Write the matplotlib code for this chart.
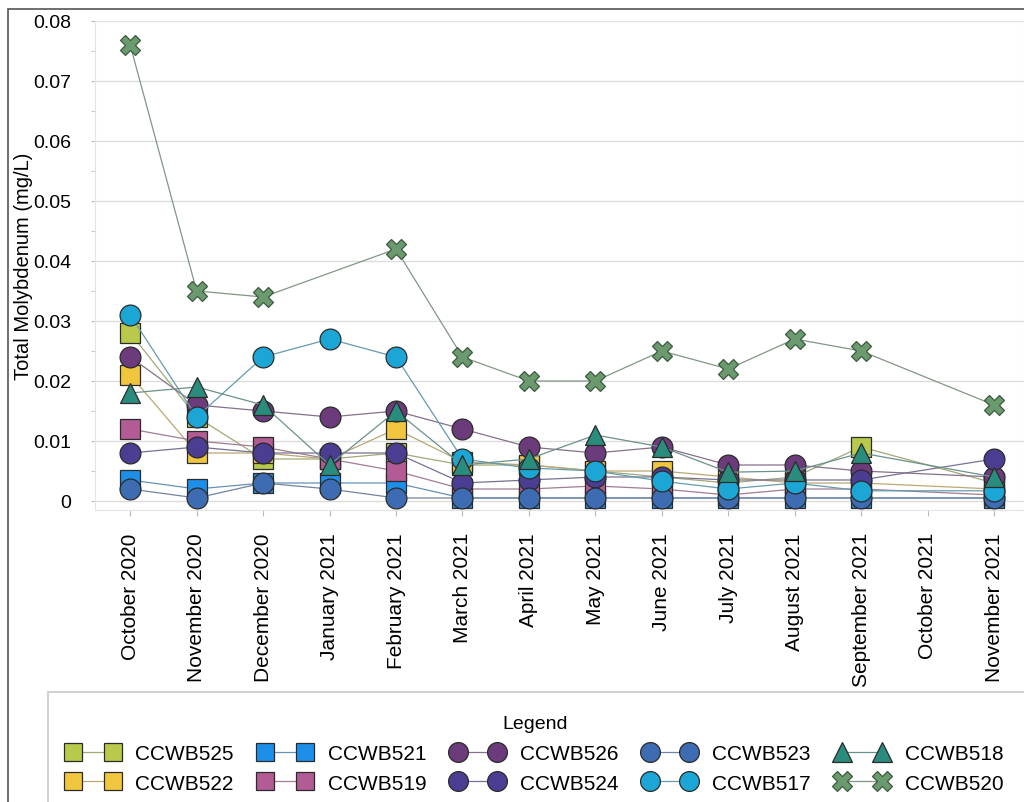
import matplotlib
matplotlib.use("Agg")
import matplotlib.pyplot as plt
import numpy as np
from matplotlib.colors import to_rgb
from matplotlib.patches import Rectangle

plt.rcParams["font.family"] = ["Liberation Sans", "DejaVu Sans"]

nan = np.nan
months = ["October 2020", "November 2020", "December 2020", "January 2021",
          "February 2021", "March 2021", "April 2021", "May 2021", "June 2021",
          "July 2021", "August 2021", "September 2021", "October 2021",
          "November 2021"]

ccwb525 = [0.028, 0.014, 0.007, 0.007, 0.008, 0.006, 0.006, 0.005, 0.004, 0.003, 0.004, 0.009, nan, 0.003]
ccwb522 = [0.021, 0.008, 0.008, 0.007, 0.012, 0.0065, 0.006, 0.005, 0.005, 0.004, 0.003, 0.003, nan, 0.002]
ccwb521 = [0.0035, 0.002, 0.003, 0.003, 0.003, 0.0005, 0.0005, 0.0005, 0.0005, 0.0005, 0.0005, 0.0005, nan, 0.0005]
ccwb519 = [0.012, 0.010, 0.009, 0.007, 0.005, 0.002, 0.002, 0.0025, 0.002, 0.001, 0.002, 0.002, nan, 0.001]
ccwb526 = [0.024, 0.016, 0.015, 0.014, 0.015, 0.012, 0.009, 0.008, 0.009, 0.006, 0.006, 0.005, nan, 0.004]
ccwb524 = [0.008, 0.009, 0.008, 0.008, 0.008, 0.003, 0.0035, 0.004, 0.004, 0.0035, 0.0035, 0.0035, nan, 0.007]
ccwb523 = [0.002, 0.0005, 0.003, 0.002, 0.0005, 0.0005, 0.0005, 0.0005, 0.0005, 0.0005, 0.0005, 0.0005, nan, 0.0005]
ccwb517 = [0.031, 0.014, 0.024, 0.027, 0.024, 0.007, 0.0055, 0.005, 0.0033, 0.002, 0.003, 0.0017, nan, 0.0017]
ccwb518 = [0.018, 0.019, 0.016, 0.006, 0.015, 0.006, 0.007, 0.011, 0.009, 0.0048, 0.005, 0.008, nan, 0.004]
ccwb520 = [0.076, 0.035, 0.034, nan, 0.042, 0.024, 0.020, 0.020, 0.025, 0.022, 0.027, 0.025, nan, 0.016]

# name, values, marker, colour
series = [
    ("CCWB525", ccwb525, "s", "#b8c94c"),
    ("CCWB522", ccwb522, "s", "#f0c63f"),
    ("CCWB521", ccwb521, "s", "#1e8fe8"),
    ("CCWB519", ccwb519, "s", "#b35b94"),
    ("CCWB526", ccwb526, "o", "#6c3b7c"),
    ("CCWB524", ccwb524, "o", "#4b3e92"),
    ("CCWB523", ccwb523, "o", "#3d6cb3"),
    ("CCWB517", ccwb517, "o", "#1ba6d6"),
    ("CCWB518", ccwb518, "^", "#2a8c7c"),
    ("CCWB520", ccwb520, "X", "#6a9a6e"),
]


def line_colour(c):
    # thin connector lines are greyed-out versions of the marker colour
    r, g, b = to_rgb(c)
    return (0.4 * r + 0.6 * 0.58, 0.4 * g + 0.6 * 0.58, 0.4 * b + 0.6 * 0.58)


fig = plt.figure(figsize=(10.24, 8.03), dpi=100)
ax = fig.add_axes([95 / 1024, 1 - 511 / 803, 1 - 95 / 1024, (511 - 22) / 803])

x = np.arange(len(months))
handles = {}
for name, vals, marker, col in series:
    y = np.array(vals, dtype=float)
    m = ~np.isnan(y)
    size = 14 if marker == "s" else 15
    h, = ax.plot(x[m], y[m], color=line_colour(col), lw=0.9, marker=marker,
                 markersize=size, markerfacecolor=col,
                 markeredgecolor="#2b2b2b" if marker != "X" else "#3d5a40",
                 markeredgewidth=0.9, label=name)
    handles[name] = h

ax.set_xlim(-0.53, 13.45)
ax.set_ylim(-0.0015, 0.08)
ax.set_yticks(np.arange(0, 0.081, 0.01))
ax.set_yticklabels(["0"] + [f"{v:.2f}" for v in np.arange(0.01, 0.081, 0.01)])
ax.set_yticks(np.arange(0.005, 0.08, 0.01), minor=True)
ax.set_xticks(x)
ax.set_xticklabels(months, rotation=90, fontsize=15)
ax.tick_params(axis="y", labelsize=14, length=3, pad=14, color="#bbbbbb", which="both")
ax.tick_params(axis="x", length=4, pad=12, color="#bbbbbb")
ax.grid(axis="y", color="#dcdcdc", lw=1)
ax.set_axisbelow(True)
for s in ax.spines.values():
    s.set_color("#e4e4e4")
ax.set_ylabel("Total Molybdenum (mg/L)", fontsize=14.5)
ax.yaxis.set_label_coords(-62 / 929, 0.5)

# outer border and legend box
fig.patches.append(Rectangle((8 / 1024, -0.1), 1.2, 1 - 10 / 803 + 0.1,
                             transform=fig.transFigure, fill=False,
                             edgecolor="#555555", lw=1.2))
fig.patches.append(Rectangle((48 / 1024, -0.1), 1.2, 1 - 693 / 803 + 0.1,
                             transform=fig.transFigure, fill=False,
                             edgecolor="#c8c8c8", lw=1.2))

order = ["CCWB525", "CCWB522", "CCWB521", "CCWB519", "CCWB526",
         "CCWB524", "CCWB523", "CCWB517", "CCWB518", "CCWB520"]
leg = fig.legend([handles[n] for n in order], order, ncol=5, numpoints=2,
                 loc="upper left", bbox_to_anchor=(48 / 1024, 1 - 697 / 803),
                 frameon=False, fontsize=15, title="Legend",
                 title_fontsize=14, handlelength=2.5, handletextpad=0.8,
                 columnspacing=1.2, labelspacing=0.5, markerscale=0.95)
leg._legend_box.sep = 9

fig.savefig("out.png", dpi=100)
